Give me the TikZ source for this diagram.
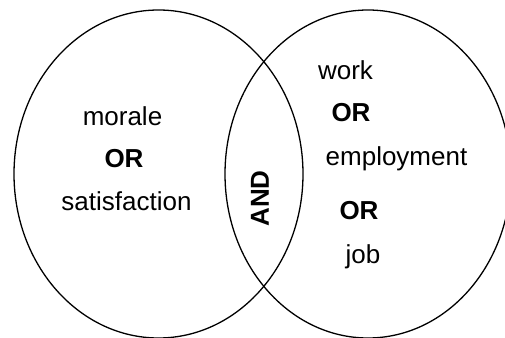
\documentclass[tikz,border=0pt]{standalone}
\usepackage{fontspec}
\setmainfont{Liberation Sans}
\usetikzlibrary{shapes.geometric}
\begin{document}
\begin{tikzpicture}[x=1pt,y=-1pt,
  circ/.style={draw=black, line width=1.3pt, ellipse, inner sep=0pt},
  word/.style={inner sep=0pt, anchor=base, font=\fontsize{26}{28}\selectfont},
  boldword/.style={word, font=\fontsize{26}{28}\selectfont\bfseries}]
\useasboundingbox (0,0) rectangle (505,337);
\clip (0,0) rectangle (505,337);
\node[circ, minimum width=289pt, minimum height=328pt] (left) at (158.5,174) {};
\node[circ, minimum width=286pt, minimum height=328pt] (right) at (368,174) {};
\node[word] (morale) at (122.5,125) {morale};
\node[boldword] (or1) at (124,167.5) {OR};
\node[word] (satisfaction) at (126.5,210.5) {satisfaction};
\node[boldword, anchor=center, rotate=90] (and) at (260,198.5) {AND};
\node[word] (work) at (345.5,79) {work};
\node[boldword] (or2) at (351,121.5) {OR};
\node[word] (employment) at (396.5,165.5) {employment};
\node[boldword] (or3) at (359,219.5) {OR};
\node[word] (job) at (363,263) {job};
\end{tikzpicture}
\end{document}
